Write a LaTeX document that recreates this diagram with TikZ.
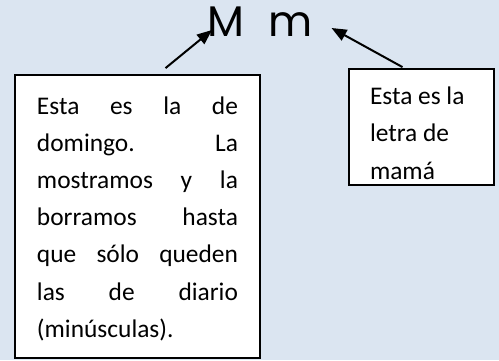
\documentclass[tikz,border=0pt]{standalone}
\usepackage{fontspec}
\setmainfont{Carlito}
\newfontfamily\geofont{Poppins}
\usepackage{tikz}
\usetikzlibrary{arrows.meta,positioning}
\definecolor{bgblue}{HTML}{DBE5F1}

\begin{document}
\begin{tikzpicture}[x=1bp,y=-1bp]
		\tikzstyle{Box}		= [draw, line width=1.8bp, fill=white, inner xsep=22bp, inner ysep=0pt, font=\fontsize{25.5}{37.3}\selectfont]
		\tikzstyle{Letter}	= [inner sep=0pt, anchor=base west, font=\geofont\fontsize{43}{43}\selectfont]
		\tikzstyle{Pointer}	= [line width=2bp, -{Triangle[length=15bp,width=12bp]}]

		\fill[bgblue] (0,0) rectangle (499,360);
		\useasboundingbox (0,0) rectangle (499,360);

		\node (m1) at (207,36) [Letter] {M};
		\node (m2) at (268,36) [Letter] {m};

		\node (b1) at (137.5,216.5) [Box, text width=201bp, minimum height=283bp, align=justify]
			{\hyphenpenalty=10000\rule{0pt}{22bp}Esta es la de\linebreak domingo. La\linebreak mostramos y la\linebreak borramos hasta\linebreak que sólo queden\linebreak las de diario\linebreak (minúsculas).};
		\node (b2) at (421.5,127) [Box, inner xsep=21bp, text width=103bp, minimum height=116bp, align=flush left]
			{\rule{0pt}{30bp}Esta es la\\letra de\\mamá};

		\draw [Pointer] ([xshift=28bp,yshift=6bp]b1.north) to ([xshift=5bp,yshift=6bp]m1.base west);
		\draw [Pointer] ([xshift=-19bp,yshift=1bp]b2.north) to ([xshift=19bp,yshift=8bp]m2.base east);
\end{tikzpicture}
\end{document}
